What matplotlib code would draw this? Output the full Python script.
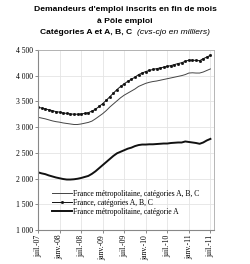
import matplotlib
matplotlib.use("Agg")
import matplotlib.pyplot as plt
from matplotlib.ticker import FuncFormatter

tick_labels = ["juil.-07", "janv.-08", "juil.-08", "janv.-09", "juil.-09",
               "janv.-10", "juil.-10", "janv.-11", "juil.-11"]

metro_abc = [3190, 3175, 3160, 3140, 3120, 3105, 3095, 3080, 3070, 3060, 3050, 3050,
             3060, 3075, 3090, 3115, 3160, 3210, 3260, 3320, 3390, 3450, 3510, 3570,
             3620, 3660, 3700, 3740, 3790, 3820, 3850, 3870, 3885, 3895, 3910, 3925,
             3940, 3955, 3970, 3985, 4000, 4020, 4050, 4055, 4050, 4050, 4070, 4100, 4130]

france_abc = [3385, 3370, 3355, 3335, 3320, 3300, 3290, 3275, 3265, 3255, 3250, 3250,
              3255, 3265, 3280, 3310, 3345, 3400, 3455, 3520, 3590, 3660, 3730, 3790,
              3840, 3890, 3930, 3970, 4020, 4050, 4080, 4100, 4120, 4135, 4150, 4165,
              4180, 4195, 4215, 4235, 4250, 4280, 4300, 4300, 4295, 4290, 4330, 4360, 4395]

metro_a = [2120, 2100, 2085, 2060, 2040, 2020, 2005, 1990, 1980, 1980, 1985, 1995,
           2010, 2030, 2050, 2090, 2140, 2200, 2260, 2320, 2380, 2440, 2490, 2520,
           2550, 2580, 2600, 2630, 2650, 2660, 2660, 2665, 2665, 2670, 2675, 2680,
           2680, 2690, 2695, 2700, 2700, 2720, 2710, 2700, 2690, 2675, 2700, 2740, 2770]

labels = ["France métropolitaine, catégories A, B, C",
          "France, catégories A, B, C",
          "France métropolitaine, catégorie A"]

months = list(range(len(metro_abc)))

fig = plt.figure(figsize=(2.5, 2.64), dpi=100)
ax = fig.add_axes([0.152, 0.129, 0.704, 0.682])

ax.plot(months, metro_abc, color="#444444", lw=0.7, label=labels[0])
ax.plot(months, france_abc, color="#111111", lw=0.7, marker="s", ms=1.0,
        label=labels[1])
ax.plot(months, metro_a, color="#111111", lw=1.4, label=labels[2])

ax.set_xlim(0, 49)
ax.set_ylim(1000, 4500)
ax.set_xticks(range(0, 49, 6))
ax.set_xticklabels(tick_labels, rotation=90, family="Liberation Serif", fontsize=5.5)
ax.set_yticks(range(1000, 4501, 500))
ax.yaxis.set_major_formatter(FuncFormatter(lambda v, p: f"{int(v):,}".replace(",", " ")))
for t in ax.get_yticklabels():
    t.set_family("Liberation Serif")
    t.set_fontsize(5.5)
ax.tick_params(axis="both", length=2, width=0.6, pad=1.5, color="#777777")
ax.grid(True, color="#e4e4e4", lw=0.6)
ax.set_axisbelow(True)
for s in ["top", "right"]:
    ax.spines[s].set_color("#aaaaaa")
    ax.spines[s].set_linewidth(0.6)
for s in ["left", "bottom"]:
    ax.spines[s].set_color("#888888")
    ax.spines[s].set_linewidth(0.8)

ax.legend(loc="lower left", bbox_to_anchor=(0.08, 0.08), frameon=False,
          prop={"family": "Liberation Serif", "size": 5.5},
          handlelength=2.6, handletextpad=0.1, labelspacing=0.1,
          borderpad=0, borderaxespad=0)

fs = 6.1
fig.text(0.5, 0.965, "Demandeurs d'emploi inscrits en fin de mois",
         ha="center", va="center", family="Liberation Sans", weight="bold", fontsize=fs)
fig.text(0.5, 0.92, "à Pôle emploi",
         ha="center", va="center", family="Liberation Sans", weight="bold", fontsize=fs)

# third line: bold part + italic part, centered as a whole
ta = fig.text(0, 0.875, "Catégories A et A, B, C ", ha="left", va="center",
              family="Liberation Sans", weight="bold", fontsize=fs)
tb = fig.text(0, 0.875, "(cvs-cjo en milliers)", ha="left", va="center",
              family="Liberation Sans", style="italic", fontsize=fs)
fig.canvas.draw()
r = fig.canvas.get_renderer()
wa = ta.get_window_extent(r).width / fig.bbox.width
wb = tb.get_window_extent(r).width / fig.bbox.width
x0 = 0.5 - (wa + wb + 0.01) / 2
ta.set_x(x0)
tb.set_x(x0 + wa + 0.01)

fig.savefig("out.png", dpi=100)
